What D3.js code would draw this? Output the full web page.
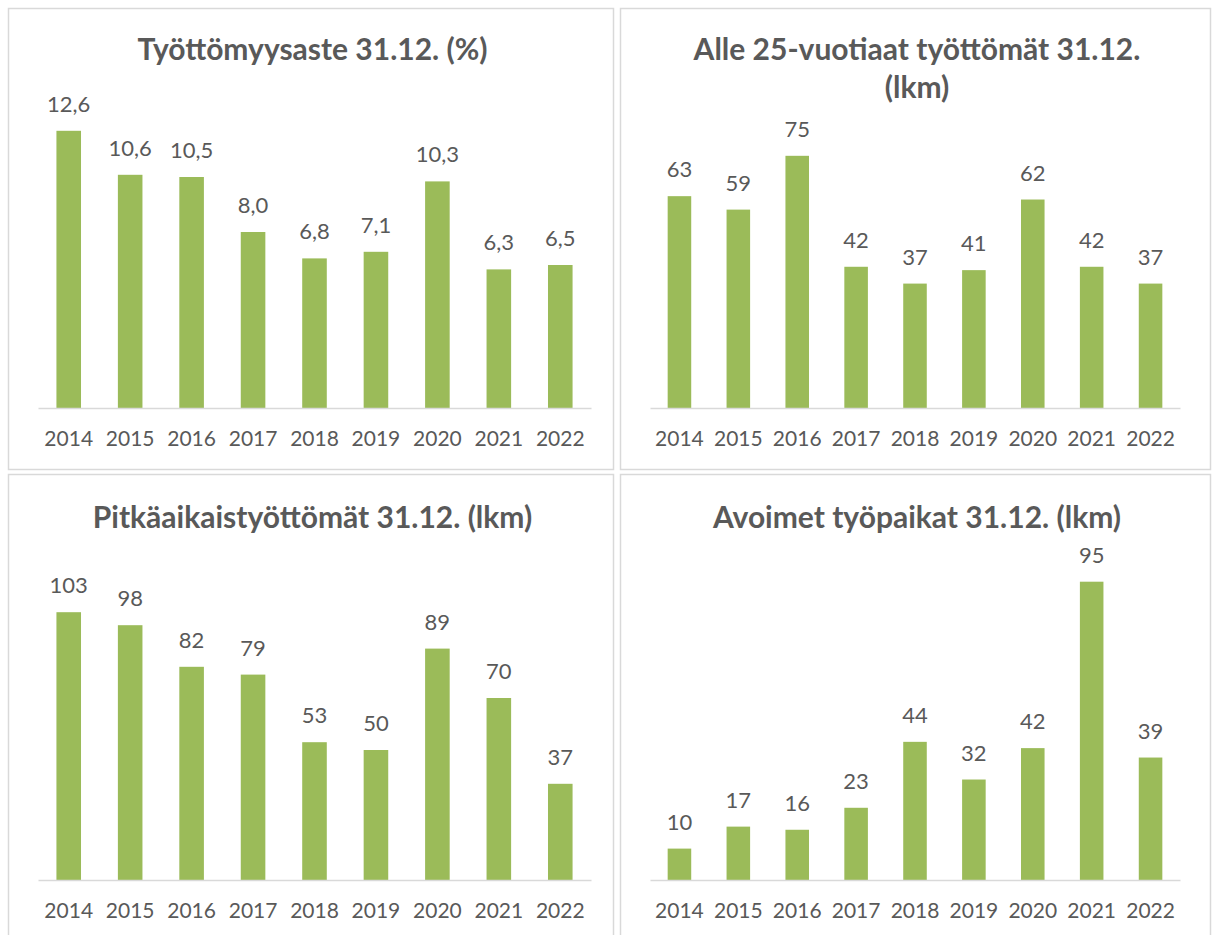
<!DOCTYPE html>
<html lang="fi">
<head>
<meta charset="utf-8">
<title>Työllisyys 2014-2022</title>
<script src="https://cdn.jsdelivr.net/npm/d3@7"></script>
<style>
  body { margin: 0; background: #fff; }
  text { font-family: Lato, "Open Sans", sans-serif; fill: #595959; }
</style>
</head>
<body>
<script>
// data
var years = ["2014", "2015", "2016", "2017", "2018", "2019", "2020", "2021", "2022"];
var tyottomyysaste = [12.6, 10.6, 10.5, 8.0, 6.8, 7.1, 10.3, 6.3, 6.5];
var alle25 = [63, 59, 75, 42, 37, 41, 62, 42, 37];
var pitkaaikais = [103, 98, 82, 79, 53, 50, 89, 70, 37];
var avoimet = [10, 17, 16, 23, 44, 32, 42, 95, 39];

var w = 1212, h = 935;
var svg = d3.select("body").append("svg").attr("width", w).attr("height", h);

var comma = function(d) { return d3.format(".1f")(d).replace(".", ","); };
var plain = function(d) { return d3.format("d")(d); };

// one box per chart
var panels = [
  { values: tyottomyysaste, title: ["Työttömyysaste 31.12. (%)"], fmt: comma, max: 14,
    box: [8, 8, 613, 469], plot: [38, 100, 591, 408], titleY: 60 },
  { values: alle25, title: ["Alle 25-vuotiaat työttömät 31.12.", "(lkm)"], fmt: plain, max: 80,
    box: [620, 8, 1210, 469], plot: [650, 139, 1180, 408], titleY: 60 },
  { values: pitkaaikais, title: ["Pitkäaikaistyöttömät 31.12. (lkm)"], fmt: plain, max: 120,
    box: [8, 474, 613, 940], plot: [38, 568, 591, 880], titleY: 528 },
  { values: avoimet, title: ["Avoimet työpaikat 31.12. (lkm)"], fmt: plain, max: 100,
    box: [620, 474, 1210, 940], plot: [650, 566, 1180, 880], titleY: 528 }
];

panels.forEach(function(p) {
  var g = svg.append("g");

  g.append("rect")
    .attr("x", p.box[0] + 0.5).attr("y", p.box[1] + 0.5)
    .attr("width", p.box[2] - p.box[0]).attr("height", p.box[3] - p.box[1])
    .attr("fill", "#fff").attr("stroke", "#d9d9d9").attr("stroke-width", 1.5);

  var cx = (p.box[0] + p.box[2]) / 2 + 2;
  var t = g.append("text")
    .attr("x", cx).attr("y", p.titleY)
    .attr("text-anchor", "middle")
    .style("font-size", "30px").style("font-weight", "bold");
  p.title.forEach(function(line, i) {
    t.append("tspan").attr("x", cx).attr("dy", i ? 38 : 0).text(line);
  });

  var x = d3.scaleBand().domain(years)
    .range([p.plot[0], p.plot[2]])
    .paddingInner(0.6).paddingOuter(0.3);
  var y = d3.scaleLinear().domain([0, p.max]).range([p.plot[3], p.plot[1]]);

  g.selectAll("rect.bar")
    .data(p.values)
    .enter().append("rect")
    .attr("class", "bar")
    .attr("x", function(d, i) { return x(years[i]); })
    .attr("y", function(d) { return y(d); })
    .attr("width", x.bandwidth())
    .attr("height", function(d) { return y(0) - y(d); })
    .attr("fill", "#9bbb59");

  g.selectAll("text.lbl")
    .data(p.values)
    .enter().append("text")
    .attr("class", "lbl")
    .attr("x", function(d, i) { return x(years[i]) + x.bandwidth() / 2; })
    .attr("y", function(d) { return y(d) - 19; })
    .attr("text-anchor", "middle")
    .style("font-size", "22px")
    .text(p.fmt);

  // x axis
  var ax = g.append("g")
    .attr("transform", "translate(0," + y(0) + ")")
    .call(d3.axisBottom(x).tickSize(0).tickPadding(23));
  ax.select(".domain").attr("stroke", "#d9d9d9").attr("stroke-width", 1.5);
  ax.selectAll("text").style("font-size", "21px").style("font-family", "Lato, sans-serif").attr("fill", "#595959");
});
</script>
</body>
</html>
